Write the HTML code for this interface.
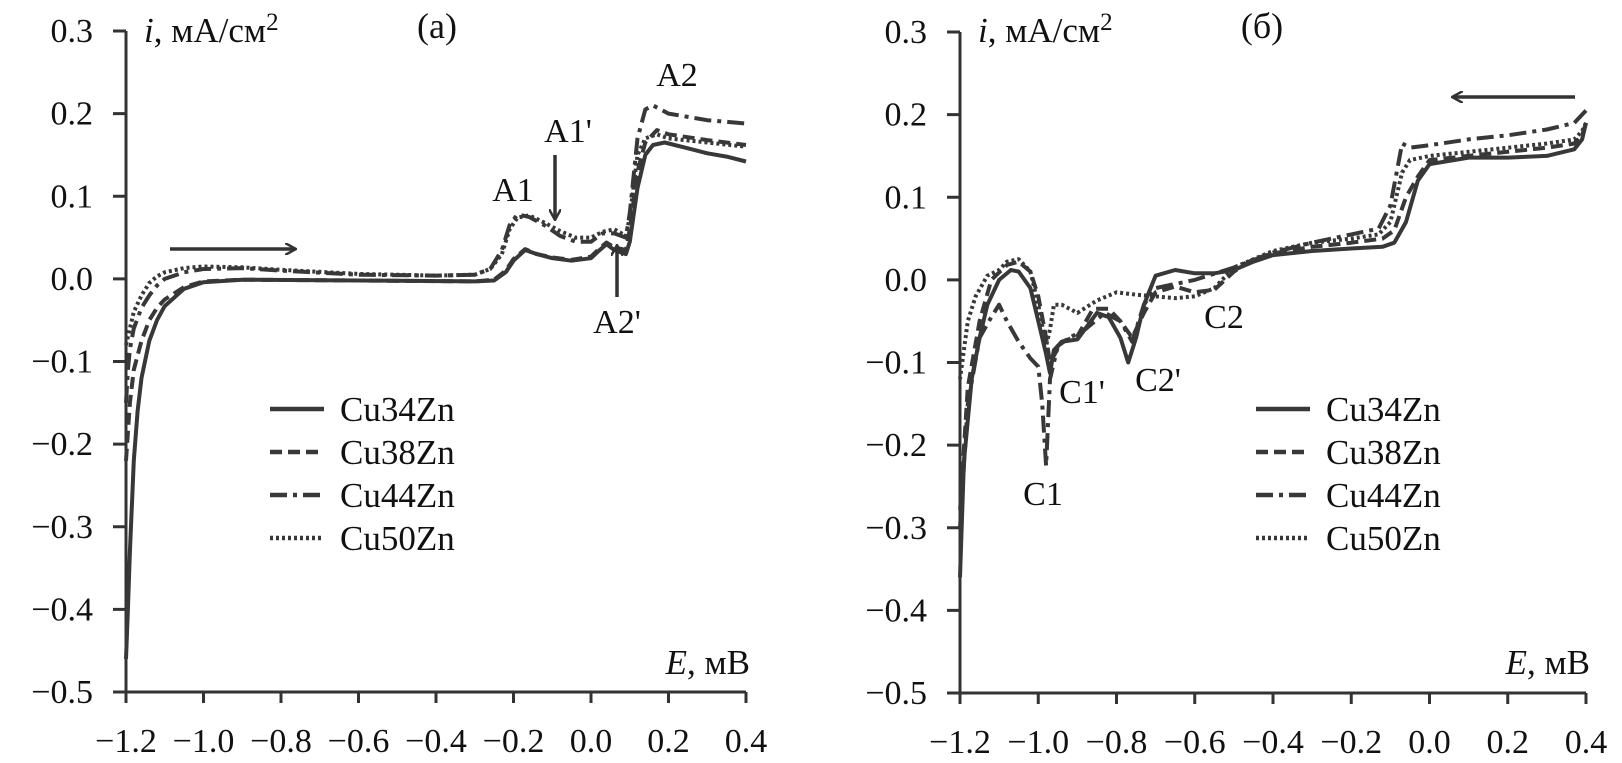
<!DOCTYPE html>
<html><head><meta charset="utf-8"><style>
html,body{margin:0;padding:0;background:#fff;}
svg{display:block;font-family:"Liberation Serif",serif;}
</style></head><body>
<svg id="chart" width="1622" height="763" viewBox="0 0 1622 763" xmlns="http://www.w3.org/2000/svg">
<defs>
<marker id="ah" markerWidth="12" markerHeight="12" refX="10" refY="6" orient="auto" markerUnits="userSpaceOnUse" viewBox="0 0 12 12"><path d="M0,0 L11,6 L0,12" fill="none" stroke="#333" stroke-width="2.5"/></marker>
</defs>
<g id="pa"></g>
<g id="pb"></g>
</svg>
<script>
const xTicks = [-1.2,-1.0,-0.8,-0.6,-0.4,-0.2,0.0,0.2,0.4];
const xTickLabels = ["\u22121.2","\u22121.0","\u22120.8","\u22120.6","\u22120.4","\u22120.2","0.0","0.2","0.4"];
const yTicks = [0.3,0.2,0.1,0.0,-0.1,-0.2,-0.3,-0.4,-0.5];
const yTickLabels = ["0.3","0.2","0.1","0.0","\u22120.1","\u22120.2","\u22120.3","\u22120.4","\u22120.5"];
const seriesNames = ["Cu34Zn","Cu38Zn","Cu44Zn","Cu50Zn"];

// Panel (a) anodic
const aCu34E = [-1.2,-1.195,-1.19,-1.18,-1.17,-1.16,-1.14,-1.12,-1.1,-1.05,-1.0,-0.9,-0.6,-0.3,-0.25,-0.22,-0.2,-0.17,-0.14,-0.1,-0.05,0.0,0.02,0.04,0.06,0.09,0.1,0.12,0.14,0.16,0.19,0.25,0.3,0.35,0.4];
const aCu34I = [-0.46,-0.4,-0.33,-0.22,-0.16,-0.12,-0.075,-0.05,-0.033,-0.012,-0.004,-0.001,-0.002,-0.003,-0.002,0.008,0.022,0.035,0.03,0.025,0.022,0.025,0.034,0.042,0.035,0.03,0.045,0.11,0.15,0.162,0.165,0.158,0.152,0.148,0.142];
const aCu38E = [-1.2,-1.19,-1.18,-1.16,-1.14,-1.12,-1.1,-1.05,-1.0,-0.9,-0.6,-0.3,-0.25,-0.22,-0.2,-0.17,-0.14,-0.1,-0.05,0.0,0.02,0.04,0.06,0.09,0.1,0.12,0.14,0.17,0.2,0.3,0.4];
const aCu38I = [-0.22,-0.15,-0.11,-0.075,-0.05,-0.035,-0.025,-0.01,-0.003,-0.001,-0.002,-0.003,-0.001,0.01,0.024,0.036,0.03,0.026,0.023,0.027,0.036,0.044,0.038,0.035,0.06,0.13,0.165,0.18,0.175,0.168,0.162];
const aCu44E = [-1.2,-1.195,-1.19,-1.18,-1.16,-1.14,-1.12,-1.1,-1.05,-1.0,-0.9,-0.8,-0.6,-0.4,-0.3,-0.26,-0.23,-0.21,-0.19,-0.16,-0.12,-0.08,-0.04,0.0,0.03,0.06,0.09,0.1,0.12,0.14,0.16,0.2,0.3,0.4];
const aCu44I = [-0.15,-0.11,-0.085,-0.06,-0.035,-0.02,-0.008,0.0,0.008,0.012,0.013,0.01,0.005,0.004,0.005,0.012,0.035,0.065,0.078,0.075,0.065,0.052,0.045,0.045,0.055,0.055,0.05,0.08,0.17,0.205,0.21,0.2,0.192,0.188];
const aCu50E = [-1.2,-1.19,-1.18,-1.16,-1.14,-1.12,-1.1,-1.05,-1.0,-0.9,-0.8,-0.6,-0.4,-0.3,-0.26,-0.23,-0.21,-0.19,-0.16,-0.12,-0.08,-0.04,0.0,0.03,0.06,0.09,0.1,0.12,0.14,0.17,0.2,0.3,0.4];
const aCu50I = [-0.08,-0.06,-0.04,-0.02,-0.005,0.003,0.008,0.013,0.015,0.014,0.011,0.006,0.004,0.005,0.012,0.03,0.06,0.074,0.077,0.068,0.058,0.05,0.05,0.057,0.06,0.052,0.075,0.15,0.17,0.175,0.17,0.165,0.16];

// Panel (б) cathodic
const bCu34E = [0.4,0.39,0.37,0.3,0.2,0.1,0.0,-0.03,-0.06,-0.09,-0.12,-0.2,-0.3,-0.4,-0.45,-0.5,-0.55,-0.6,-0.65,-0.7,-0.73,-0.75,-0.77,-0.79,-0.82,-0.85,-0.9,-0.94,-0.96,-0.97,-0.98,-1.0,-1.02,-1.05,-1.07,-1.1,-1.13,-1.15,-1.17,-1.19,-1.2];
const bCu34I = [0.19,0.17,0.158,0.15,0.148,0.148,0.14,0.12,0.07,0.045,0.04,0.038,0.035,0.03,0.022,0.012,0.008,0.008,0.012,0.005,-0.03,-0.07,-0.1,-0.07,-0.045,-0.04,-0.072,-0.075,-0.085,-0.113,-0.09,-0.05,-0.01,0.01,0.012,0.0,-0.03,-0.07,-0.12,-0.22,-0.36];
const bCu38E = [0.4,0.39,0.37,0.3,0.2,0.1,0.0,-0.03,-0.06,-0.09,-0.12,-0.2,-0.3,-0.4,-0.45,-0.5,-0.55,-0.6,-0.65,-0.7,-0.73,-0.76,-0.79,-0.82,-0.86,-0.9,-0.94,-0.97,-0.98,-1.0,-1.02,-1.05,-1.08,-1.12,-1.15,-1.18,-1.2];
const bCu38I = [0.19,0.175,0.165,0.16,0.155,0.15,0.145,0.125,0.1,0.06,0.05,0.045,0.04,0.032,0.025,0.01,-0.012,-0.015,-0.008,-0.015,-0.04,-0.07,-0.05,-0.035,-0.035,-0.068,-0.075,-0.1,-0.07,-0.02,0.01,0.022,0.018,0.0,-0.05,-0.13,-0.28];
const bCu44E = [0.4,0.39,0.37,0.3,0.2,0.1,0.0,-0.05,-0.07,-0.08,-0.1,-0.13,-0.2,-0.3,-0.4,-0.5,-0.6,-0.65,-0.7,-0.73,-0.76,-0.79,-0.83,-0.88,-0.92,-0.95,-0.97,-0.98,-0.99,-1.0,-1.02,-1.05,-1.08,-1.1,-1.12,-1.15,-1.18,-1.2];
const bCu44I = [0.205,0.2,0.19,0.182,0.175,0.17,0.163,0.16,0.165,0.14,0.09,0.062,0.055,0.045,0.033,0.015,0.0,-0.005,-0.01,-0.03,-0.075,-0.05,-0.04,-0.06,-0.07,-0.08,-0.12,-0.225,-0.15,-0.105,-0.095,-0.075,-0.05,-0.03,-0.045,-0.07,-0.15,-0.3];
const bCu50E = [0.4,0.39,0.37,0.3,0.2,0.1,0.0,-0.05,-0.07,-0.1,-0.13,-0.2,-0.3,-0.4,-0.5,-0.55,-0.6,-0.65,-0.7,-0.75,-0.8,-0.85,-0.9,-0.94,-0.96,-0.97,-0.98,-1.0,-1.02,-1.05,-1.08,-1.1,-1.13,-1.16,-1.18,-1.2];
const bCu50I = [0.19,0.18,0.17,0.165,0.16,0.155,0.15,0.145,0.13,0.07,0.055,0.05,0.045,0.035,0.015,-0.01,-0.02,-0.022,-0.02,-0.018,-0.015,-0.025,-0.04,-0.03,-0.03,-0.06,-0.08,-0.03,0.01,0.025,0.022,0.012,0.005,-0.02,-0.05,-0.12];

const NS = "http://www.w3.org/2000/svg";
const dashes = ["", "12 6", "17 6 4 6", "3 3"];
function mk(tag, attrs, parent){ const e=document.createElementNS(NS,tag); for(const k in attrs) e.setAttribute(k,attrs[k]); parent.appendChild(e); return e; }

function panel(g, x0, x1, y0top, y0bot, seriesE, seriesI, conf){
  const sx = v => x0 + (v + 1.2) / 1.6 * (x1 - x0);
  const sy = v => y0top + (0.3 - v) / 0.8 * (y0bot - y0top);
  let ax = mk('path',{d:`M${x0},${y0top} V${y0bot} H${x1}`,fill:'none',stroke:'#333','stroke-width':3},g);
   
  xTicks.forEach((t,i)=>{
    let l=mk('line',{x1:sx(t),x2:sx(t),y1:y0bot,y2:y0bot+11,stroke:'#333','stroke-width':3},g);
     
    let tx=mk('text',{x:sx(t),y:y0bot+60,'font-size':34,'text-anchor':'middle',fill:'#111'},g);
    tx.textContent=xTickLabels[i];
     
  });
  yTicks.forEach((t,i)=>{
    let l=mk('line',{x1:x0-13,x2:x0,y1:sy(t),y2:sy(t),stroke:'#333','stroke-width':3},g);
     
    let tx=mk('text',{x:x0-33,y:sy(t)+11,'font-size':34,'text-anchor':'end',fill:'#111'},g);
    tx.textContent=yTickLabels[i];
     
  });
  seriesE.forEach((E,k)=>{
    const I=seriesI[k];
    const d=E.map((e,j)=>(j?'L':'M')+sx(e).toFixed(1)+','+sy(I[j]).toFixed(1)).join(' ');
    let p=mk('path',{d:d,fill:'none',stroke:'#383838','stroke-width':4,'stroke-linejoin':'round','stroke-dasharray':dashes[k]},g);
    
    
  });
  seriesNames.forEach((n,k)=>{
    const y=409+k*43;
    let l=mk('line',{x1:conf.lx,x2:conf.lx+54,y1:y,y2:y,stroke:'#383838','stroke-width':4.5,'stroke-dasharray':dashes[k]},g);
     
    let t=mk('text',{x:conf.lx+70,y:y+12,'font-size':35,fill:'#111'},g);
    t.textContent=n;
     
  });
  let yl=mk('text',{x:x0+18,y:42,'font-size':35,fill:'#111'},g);
  yl.innerHTML='<tspan font-style="italic">i</tspan>, мА/см<tspan dy="-12" font-size="25">2</tspan>';
   
  let xl=mk('text',{x:x1+4,y:674,'font-size':35,'text-anchor':'end',fill:'#111'},g);
  xl.innerHTML='<tspan font-style="italic">E</tspan>, мВ';
   
  let tl=mk('text',{x:conf.tx,y:38,'font-size':36,'text-anchor':'middle',fill:'#111'},g);
  tl.textContent=conf.title;
   
  conf.labels.forEach(a=>{
    let t=mk('text',{x:a[1],y:a[2],'font-size':34,fill:'#111','text-anchor':'middle'},g);
    t.textContent=a[0];
     
  });
  conf.arrows.forEach(a=>{
    let l=mk('line',{x1:a[0],y1:a[1],x2:a[2],y2:a[3],stroke:'#333','stroke-width':3.5,'marker-end':'url(#ah)'},g);
     
  });
}

panel(document.getElementById('pa'),126,746,31,692,
  [aCu34E,aCu38E,aCu44E,aCu50E],[aCu34I,aCu38I,aCu44I,aCu50I],
  {lx:270,tx:437,title:'(a)',
   labels:[['A2',677,86],['A1\'',568,142],['A1',513,201],['A2\'',617,333]],
   arrows:[[170,249,295,249],[555,155,555,219],[617,297,617,246]]});
panel(document.getElementById('pb'),960,1586,32,693,
  [bCu34E,bCu38E,bCu44E,bCu50E],[bCu34I,bCu38I,bCu44I,bCu50I],
  {lx:1256,tx:1262,title:'(б)',
   labels:[['C1',1043,505],['C1\'',1082,403],['C2\'',1158,391],['C2',1224,328]],
   arrows:[[1575,97,1453,97]]});
</script>
</body></html>
